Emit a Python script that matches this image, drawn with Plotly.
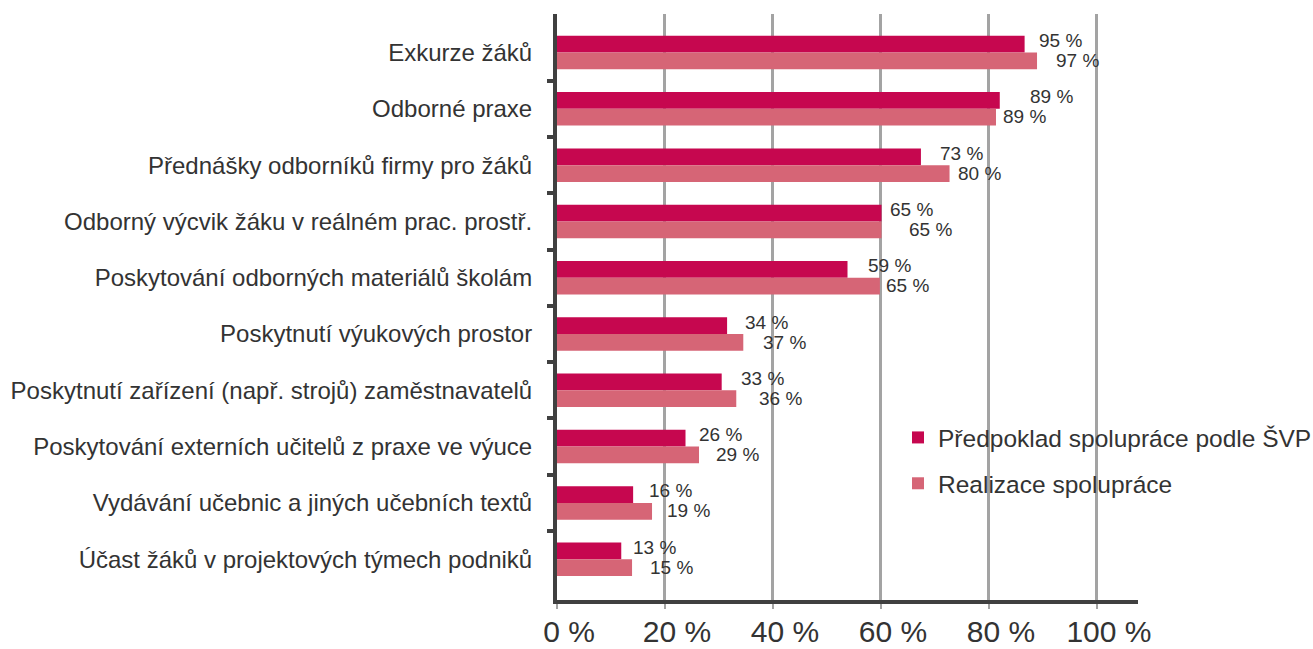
import plotly.graph_objects as go

categories = [
    "Exkurze žáků",
    "Odborné praxe",
    "Přednášky odborníků firmy pro žáků",
    "Odborný výcvik žáku v reálném prac. prostř.",
    "Poskytování odborných materiálů školám",
    "Poskytnutí výukových prostor",
    "Poskytnutí zařízení (např. strojů) zaměstnavatelů",
    "Poskytování externích učitelů z praxe ve výuce",
    "Vydávání učebnic a jiných učebních textů",
    "Účast žáků v projektových týmech podniků",
]
# bar lengths as drawn in the picture (percent of axis)
predpoklad = [86.6, 82.0, 67.4, 60.1, 53.8, 31.5, 30.5, 23.8, 14.1, 11.9]
realizace = [88.9, 81.3, 72.7, 60.1, 59.8, 34.5, 33.2, 26.3, 17.6, 13.9]
# printed value labels
predpoklad_labels = ["95 %", "89 %", "73 %", "65 %", "59 %", "34 %", "33 %", "26 %", "16 %", "13 %"]
realizace_labels = ["97 %", "89 %", "80 %", "65 %", "65 %", "37 %", "36 %", "29 %", "19 %", "15 %"]
x_ticks = [0, 20, 40, 60, 80, 100]
x_tick_text = ["0 %", "20 %", "40 %", "60 %", "80 %", "100 %"]

# label horizontal gaps (px) as laid out in the reference
pred_gap = [13, 29, 18, 7, 19, 17, 18, 12, 15, 11]
real_gap = [18, 6, 7, 26, 5, 19, 22, 16, 14, 17]

DARK = "#C6074F"
LIGHT = "#D66576"
TXT = "#333333"
AX = "#404040"
FONT = "Liberation Sans, Arial, Helvetica, sans-serif"

fig = go.Figure()
fig.add_trace(go.Bar(
    y=categories, x=predpoklad, orientation="h", name="Předpoklad spolupráce podle ŠVP",
    marker=dict(color=DARK, line=dict(width=0)), legendgroup="a",
))
fig.add_trace(go.Bar(
    y=categories, x=realizace, orientation="h", name="Realizace spolupráce",
    marker=dict(color=LIGHT, line=dict(width=0)), legendgroup="b",
))
# helper empty trace for boundary ticks axis
fig.add_trace(go.Bar(x=[], y=[], yaxis="y2", showlegend=False, hoverinfo="skip"))

annotations = []
for i, c in enumerate(categories):
    annotations.append(dict(x=predpoklad[i], y=c, xref="x", yref="y", text=predpoklad_labels[i],
                            showarrow=False, xanchor="left", yanchor="middle",
                            xshift=pred_gap[i], yshift=12, borderpad=0,
                            font=dict(family=FONT, size=19, color=TXT)))
    annotations.append(dict(x=realizace[i], y=c, xref="x", yref="y", text=realizace_labels[i],
                            showarrow=False, xanchor="left", yanchor="middle",
                            xshift=real_gap[i], yshift=-8, borderpad=0,
                            font=dict(family=FONT, size=19, color=TXT)))

yr = [9.725, -0.685]
fig.update_layout(
    width=1313, height=649,
    margin=dict(l=557, r=175, t=14, b=49, pad=0, autoexpand=False),
    paper_bgcolor="white", plot_bgcolor="white",
    barmode="group", bargap=0.405, bargroupgap=0,
    font=dict(family=FONT, color=TXT),
    showlegend=True,
    legend=dict(
        x=(898 - 557) / 581, y=(600 - 415) / 586, xanchor="left", yanchor="top",
        font=dict(family=FONT, size=24.5, color=TXT),
        bgcolor="rgba(0,0,0,0)", borderwidth=0, itemwidth=30,
        tracegroupgap=11, traceorder="grouped",
    ),
    xaxis=dict(
        range=[0, 107.6], tickvals=x_ticks, ticktext=x_tick_text,
        showgrid=True, gridcolor="#A3A3A3", gridwidth=2.5,
        zeroline=False, showline=True, linecolor=AX, linewidth=4,
        ticks="outside", ticklen=5, tickwidth=2, tickcolor="#A3A3A3",
        tickfont=dict(family=FONT, size=30, color=TXT),
        ticklabelshift=12, ticklabelstandoff=-3,
        automargin=False, fixedrange=True,
    ),
    yaxis=dict(
        type="category", categoryorder="array", categoryarray=categories,
        range=yr, showgrid=False, zeroline=False,
        showline=True, linecolor=AX, linewidth=4, ticks="",
        ticklabelstandoff=16, automargin=False,
        tickfont=dict(family=FONT, size=24, color=TXT),
    ),
    yaxis2=dict(
        overlaying="y", side="left", range=yr, automargin=False,
        tickvals=[0.5, 1.5, 2.5, 3.5, 4.5, 5.5, 6.5, 7.5, 8.5],
        showticklabels=False, showgrid=False, zeroline=False, showline=False,
        ticks="outside", ticklen=9, tickwidth=4, tickcolor=AX,
    ),
    annotations=annotations,
)

fig.write_html("out.html")
